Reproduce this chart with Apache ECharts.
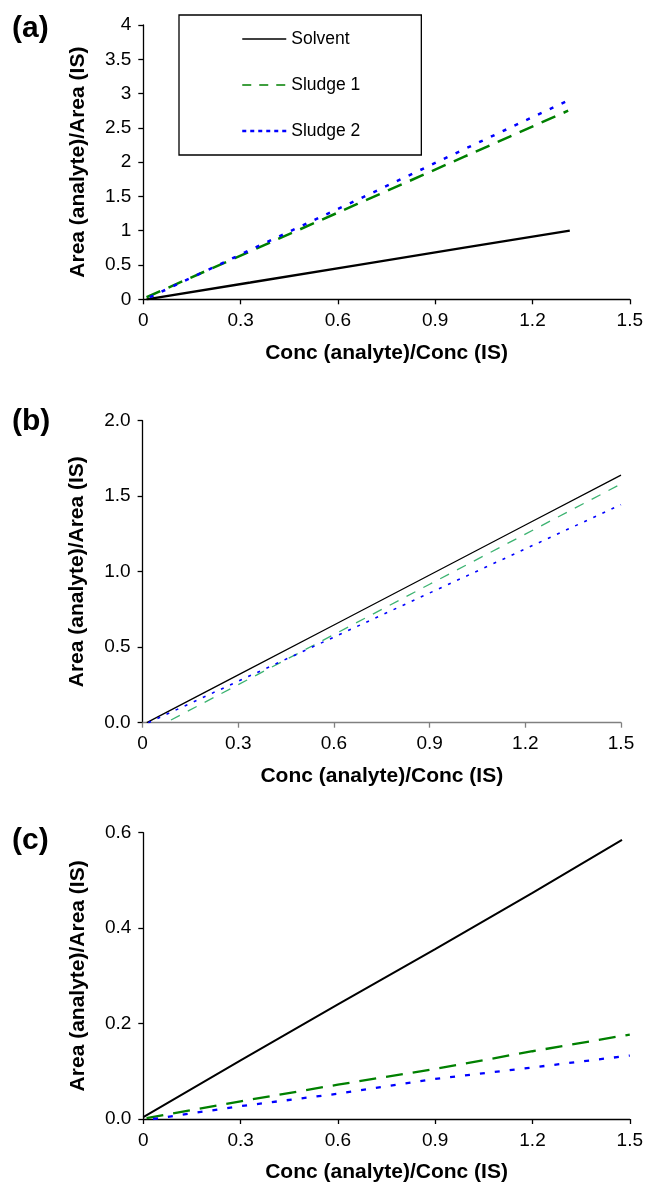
<!DOCTYPE html>
<html><head><meta charset="utf-8">
<script src="https://cdn.jsdelivr.net/npm/echarts@6/dist/echarts.min.js"></script>
<style>html,body{margin:0;padding:0;background:#fff}#c{width:646px;height:1184px}</style>
</head><body><div id="c"></div>
<script>
// ---- text ----
const seriesNames = ['Solvent', 'Sludge 1', 'Sludge 2'];
const panelLabels = ['(a)', '(b)', '(c)'];
const xAxisTitle = 'Conc (analyte)/Conc (IS)';
const yAxisTitle = 'Area (analyte)/Area (IS)';

// ---- axis ranges ----
const xRange = [0, 1.5, 0.3];
const yRangeA = [0, 4, 0.5];
const yRangeB = [0, 2, 0.5];
const yRangeC = [0, 0.6, 0.2];

// ---- panel (a) ----
const aSolventX = [0.01, 0.33, 0.66, 0.99, 1.315];
const aSolventY = [0.0, 0.245, 0.50, 0.753, 1.0];
const aSludge1X = [0.01, 0.33, 0.66, 0.99, 1.31];
const aSludge1Y = [0.03, 0.70, 1.39, 2.08, 2.75];
const aSludge2X = [0.02, 0.33, 0.66, 0.99, 1.306];
const aSludge2Y = [0.03, 0.72, 1.45, 2.19, 2.89];

// ---- panel (b) ----
const bSolventX = [0.013, 0.3, 0.6, 0.9, 1.2, 1.5];
const bSolventY = [0.0, 0.317, 0.647, 0.978, 1.309, 1.64];
const bSludge1X = [0.089, 0.3, 0.6, 0.9, 1.2, 1.5];
const bSludge1Y = [0.018, 0.252, 0.584, 0.917, 1.249, 1.581];
const bSludge2X = [0.018, 0.3, 0.6, 0.9, 1.2, 1.5];
const bSludge2Y = [0.0, 0.275, 0.567, 0.859, 1.151, 1.444];

// ---- panel (c) ----
const cSolventX = [0.0, 0.3, 0.6, 0.9, 1.2, 1.476];
const cSolventY = [0.004, 0.123, 0.240, 0.356, 0.474, 0.585];
const cSludge1X = [0.01, 0.3, 0.6, 0.9, 1.2, 1.5];
const cSludge1Y = [0.002, 0.037, 0.072, 0.105, 0.142, 0.177];
const cSludge2X = [0.03, 0.3, 0.6, 0.9, 1.2, 1.5];
const cSludge2Y = [0.0, 0.027, 0.053, 0.084, 0.108, 0.133];

const FONT = '"Liberation Sans", Arial, Helvetica, sans-serif';
const zip = (xs, ys) => xs.map((x, i) => [x, ys[i]]);

const grids = [
  { left: 143.3, top: 25, width: 487.4, height: 274.3 },
  { left: 142.6, top: 420.7, width: 478.4, height: 302 },
  { left: 143.3, top: 832.7, width: 488.4, height: 289 }
];

function mkX(gi, lineColor) {
  return {
    type: 'value', gridIndex: gi, min: xRange[0], max: xRange[1], interval: xRange[2],
    name: xAxisTitle, nameLocation: 'middle', nameGap: 43,
    nameTextStyle: { fontSize: 21, fontWeight: 'bold', color: '#000', fontFamily: FONT },
    axisLine: { show: true, onZero: false, lineStyle: { color: lineColor, width: 1.3 } },
    axisTick: { show: true, length: 5, lineStyle: { color: lineColor, width: 1.3 } },
    axisLabel: { fontSize: 19, color: '#000', margin: 12, fontFamily: FONT },
    splitLine: { show: false }
  };
}
function mkY(gi, r, fmt) {
  return {
    type: 'value', gridIndex: gi, min: r[0], max: r[1], interval: r[2],
    name: yAxisTitle, nameLocation: 'middle', nameRotate: 90, nameGap: 55,
    nameTextStyle: { fontSize: 21, fontWeight: 'bold', color: '#000', fontFamily: FONT },
    axisLine: { show: true, onZero: false, lineStyle: { color: '#000', width: 1.3 } },
    axisTick: { show: true, length: 5, lineStyle: { color: '#000', width: 1.3 } },
    axisLabel: { fontSize: 19, color: '#000', margin: 12, fontFamily: FONT, formatter: fmt },
    splitLine: { show: false }
  };
}
function mkS(name, gi, data, color, width, type) {
  return {
    name: name, type: 'line', xAxisIndex: gi, yAxisIndex: gi, data: data,
    symbol: 'none', showSymbol: false, smooth: false, silent: true,
    lineStyle: { color: color, width: width, type: type, cap: 'butt' },
    itemStyle: { color: color }
  };
}
const fmt1 = v => v.toFixed(1);

const option = {
  animation: false,
  backgroundColor: '#fff',
  title: panelLabels.map((t, i) => ({
    text: t, left: 12, top: [14, 407, 826][i], padding: 0,
    textStyle: { fontSize: 30, fontWeight: 'bold', color: '#000', fontFamily: FONT }
  })),
  legend: {
    left: 179, top: 15, orient: 'vertical', selectedMode: false,
    padding: [15, 61, 15, 62], itemGap: 28, itemWidth: 44, itemHeight: 18,
    borderColor: '#000', borderWidth: 1.3, backgroundColor: '#fff',
    textStyle: { fontSize: 17.5, color: '#000', fontFamily: FONT, lineHeight: 18 },
    itemStyle: { opacity: 0 },
    data: [
      { name: seriesNames[0], lineStyle: { width: 1.4, color: '#000', type: 'solid' } },
      { name: seriesNames[1], lineStyle: { width: 1.5, color: '#008000', type: [9, 8] } },
      { name: seriesNames[2], lineStyle: { width: 2.5, color: '#0000ff', type: [4, 4] } }
    ]
  },
  grid: grids,
  xAxis: [mkX(0, '#000'), mkX(1, '#808080'), mkX(2, '#000')],
  yAxis: [mkY(0, yRangeA, null), mkY(1, yRangeB, fmt1), mkY(2, yRangeC, fmt1)],
  series: [
    mkS(seriesNames[0], 0, zip(aSolventX, aSolventY), '#000', 2.3, 'solid'),
    mkS(seriesNames[1], 0, zip(aSludge1X, aSludge1Y), '#008000', 2.5, [15, 9]),
    mkS(seriesNames[2], 0, zip(aSludge2X, aSludge2Y), '#0000ff', 2.5, [4, 9]),
    mkS(seriesNames[0], 1, zip(bSolventX, bSolventY), '#000', 1.3, 'solid'),
    mkS(seriesNames[1], 1, zip(bSludge1X, bSludge1Y), '#3cb371', 1.3, [10, 9]),
    mkS(seriesNames[2], 1, zip(bSludge2X, bSludge2Y), '#0000ff', 1.6, [3, 7]),
    mkS(seriesNames[0], 2, zip(cSolventX, cSolventY), '#000', 2, 'solid'),
    mkS(seriesNames[1], 2, zip(cSludge1X, cSludge1Y), '#008000', 2.3, [17, 10]),
    mkS(seriesNames[2], 2, zip(cSludge2X, cSludge2Y), '#0000ff', 2.3, [5, 10])
  ]
};
const chart = echarts.init(document.getElementById('c'), null, { renderer: 'canvas' });
chart.setOption(option);
</script>
</body></html>
